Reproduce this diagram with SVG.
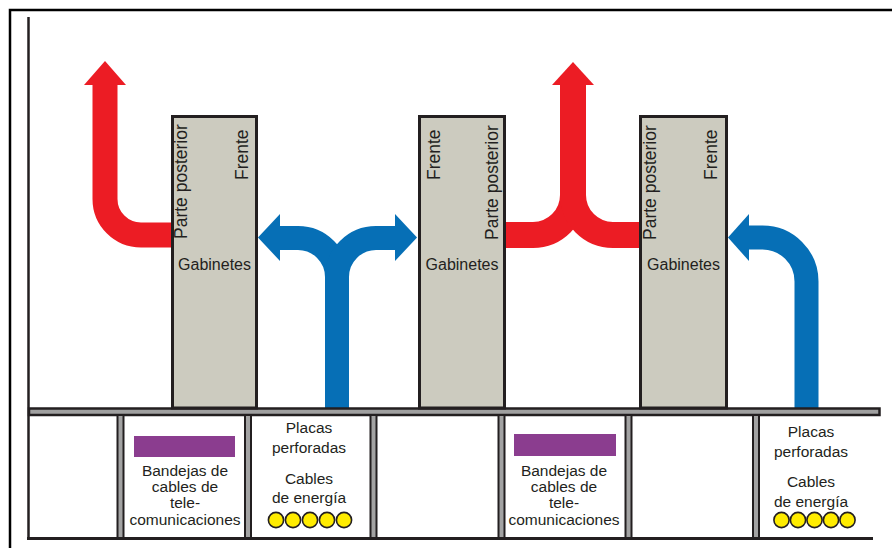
<svg xmlns="http://www.w3.org/2000/svg" width="892" height="548" viewBox="0 0 892 548">
<style>
.frame{stroke:#000;stroke-width:2.5;fill:none}
.wall{stroke:#231f20;stroke-width:2.5;fill:none}
.cab{fill:#cccbbf;stroke:#231f20;stroke-width:3}
.post{fill:#a3a3a3;stroke:#231f20;stroke-width:2}
.floor{fill:#a0a0a0;stroke:#231f20;stroke-width:2.5}
.red{fill:none;stroke:#ec1c24;stroke-width:25}
.blue{fill:none;stroke:#066fb6;stroke-width:24}
.rh{fill:#ec1c24}
.bh{fill:#066fb6}
.t{font-family:"Liberation Sans",Arial,sans-serif;fill:#231f20}
.rot{font-size:17.5px}
.gab{font-size:16px;text-anchor:middle}
.lab{font-size:15.5px;text-anchor:middle}
.tray{fill:#8b3d8f}
.cable{fill:#ffec00;stroke:#231f20;stroke-width:1.6}
</style>
<g id="frame">
<path class="frame" d="M10,548 V10 H892"/>
<path class="wall" d="M28.5,17 V540"/>
</g>
<g id="connectors">
<path class="red" d="M173,235 H141 A36,36 0 0 1 105,199 V82"/>
<polygon class="rh" points="105,61 84,85 126,85"/>
<path class="blue" d="M337,408 V277 A39,39 0 0 0 298,238 H277"/>
<path class="blue" d="M337,408 V277 A39,39 0 0 1 376,238 H397"/>
<polygon class="bh" points="258,237.5 280,214 280,261"/>
<polygon class="bh" points="417,237.5 395,214 395,261"/>
<path class="red" style="stroke-width:26" d="M504,235 H533 A40,40 0 0 0 573,195 V82"/>
<path class="red" style="stroke-width:26" d="M641,235 H613 A40,40 0 0 1 573,195 V82"/>
<polygon class="rh" points="573,62 552,85 594,85"/>
<path class="blue" d="M806.5,408 V281.5 A44,44 0 0 0 762.5,237.5 H746"/>
<polygon class="bh" points="728,237.5 749,214 749,261"/>
</g>
<g id="floor">
<rect class="floor" x="29" y="408.5" width="850.5" height="6.5"/>
<path class="wall" style="stroke-width:3" d="M27,538.5 H873"/>
</g>
<g id="posts">
<rect class="post" x="117.5" y="415" width="6" height="123"/>
<rect class="post" x="245" y="415" width="6" height="123"/>
<rect class="post" x="370.5" y="415" width="6" height="123"/>
<rect class="post" x="498.5" y="415" width="6" height="123"/>
<rect class="post" x="625.5" y="415" width="6" height="123"/>
<rect class="post" x="753" y="415" width="6" height="123"/>
</g>
<g id="cabinet1">
<rect class="cab" x="172.5" y="116.5" width="84" height="291.5"/>
<text class="t rot" transform="translate(186.5,239) rotate(-90)">Parte posterior</text>
<text class="t rot" transform="translate(248,180) rotate(-90)">Frente</text>
<text class="t gab" x="214.5" y="270">Gabinetes</text>
</g>
<g id="cabinet2">
<rect class="cab" x="419.5" y="116.5" width="85" height="291.5"/>
<text class="t rot" transform="translate(440,180) rotate(-90)">Frente</text>
<text class="t rot" transform="translate(497.5,240) rotate(-90)">Parte posterior</text>
<text class="t gab" x="462" y="270">Gabinetes</text>
</g>
<g id="cabinet3">
<rect class="cab" x="640.5" y="116.5" width="86" height="291.5"/>
<text class="t rot" transform="translate(655.5,240) rotate(-90)">Parte posterior</text>
<text class="t rot" transform="translate(717,180) rotate(-90)">Frente</text>
<text class="t gab" x="683.5" y="270">Gabinetes</text>
</g>
<g id="tray1">
<rect class="tray" x="134" y="436" width="101" height="21"/>
<text class="t lab" x="185" y="476">Bandejas de</text>
<text class="t lab" x="185" y="492">cables de</text>
<text class="t lab" x="185" y="508">tele-</text>
<text class="t lab" x="185" y="525">comunicaciones</text>
</g>
<g id="power1">
<text class="t lab" x="309" y="433">Placas</text>
<text class="t lab" x="309" y="453">perforadas</text>
<text class="t lab" x="309" y="484">Cables</text>
<text class="t lab" x="309" y="503">de energía</text>
<circle class="cable" cx="276" cy="520" r="7.6"/>
<circle class="cable" cx="293" cy="520" r="7.6"/>
<circle class="cable" cx="310" cy="520" r="7.6"/>
<circle class="cable" cx="327" cy="520" r="7.6"/>
<circle class="cable" cx="344" cy="520" r="7.6"/>
</g>
<g id="tray2">
<rect class="tray" x="514" y="434" width="102" height="22"/>
<text class="t lab" x="564" y="476">Bandejas de</text>
<text class="t lab" x="564" y="492">cables de</text>
<text class="t lab" x="564" y="508">tele-</text>
<text class="t lab" x="564" y="525">comunicaciones</text>
</g>
<g id="power2">
<text class="t lab" x="811" y="437">Placas</text>
<text class="t lab" x="811" y="457">perforadas</text>
<text class="t lab" x="811" y="487">Cables</text>
<text class="t lab" x="811" y="507">de energía</text>
<circle class="cable" cx="781.5" cy="520" r="7.6"/>
<circle class="cable" cx="798" cy="520" r="7.6"/>
<circle class="cable" cx="814.5" cy="520" r="7.6"/>
<circle class="cable" cx="831" cy="520" r="7.6"/>
<circle class="cable" cx="847.5" cy="520" r="7.6"/>
</g>
</svg>
